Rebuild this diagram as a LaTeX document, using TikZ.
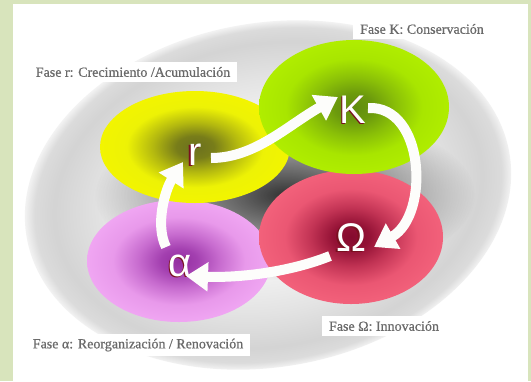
\documentclass[tikz,border=0pt]{standalone}
\usepackage{fontspec}
\setmainfont{Liberation Serif}[BoldFont=Liberation Serif, BoldFeatures={FakeBold=0.6}]
\newfontfamily\letterfont{Liberation Sans}
\usetikzlibrary{arrows.meta,calc,fadings}

\definecolor{framegreen}{HTML}{D8E4BC}
\definecolor{labelgrey}{HTML}{6A6A6A}
\definecolor{edgered}{HTML}{7A1020}
\definecolor{arrowwhite}{HTML}{FDFDFB}

% shadings for the background and the four phases (25bp = rim of the path)
\pgfdeclareradialshading{panarchy}{\pgfpoint{0bp}{0bp}}{rgb(0bp)=(0.98,0.98,0.98); rgb(10bp)=(0.96,0.96,0.96); rgb(17bp)=(0.89,0.89,0.89); rgb(22bp)=(0.83,0.83,0.83); rgb(24bp)=(0.86,0.86,0.86); rgb(25bp)=(0.95,0.95,0.95); rgb(50bp)=(1,1,1)}
\pgfdeclareradialshading{phaseR}{\pgfpoint{0bp}{0bp}}{rgb(0bp)=(0.42,0.44,0.12); rgb(5bp)=(0.47,0.49,0.1); rgb(11bp)=(0.7,0.72,0.06); rgb(18bp)=(0.93,0.95,0.02); rgb(25bp)=(0.95,0.96,0); rgb(50bp)=(0.95,0.96,0)}
\pgfdeclareradialshading{phaseK}{\pgfpoint{0bp}{0bp}}{rgb(0bp)=(0.38,0.55,0.06); rgb(5bp)=(0.42,0.6,0.05); rgb(11bp)=(0.54,0.75,0.03); rgb(18bp)=(0.66,0.9,0); rgb(25bp)=(0.69,0.93,0); rgb(50bp)=(0.69,0.93,0)}
\pgfdeclareradialshading{phaseO}{\pgfpoint{0bp}{0bp}}{rgb(0bp)=(0.52,0.04,0.18); rgb(5bp)=(0.58,0.07,0.21); rgb(11bp)=(0.76,0.2,0.33); rgb(18bp)=(0.92,0.34,0.45); rgb(25bp)=(0.95,0.38,0.48); rgb(50bp)=(0.95,0.38,0.48)}
\pgfdeclareradialshading{phaseA}{\pgfpoint{0bp}{0bp}}{rgb(0bp)=(0.58,0.18,0.63); rgb(5bp)=(0.64,0.25,0.69); rgb(11bp)=(0.78,0.42,0.81); rgb(18bp)=(0.91,0.6,0.92); rgb(25bp)=(0.94,0.65,0.95); rgb(50bp)=(0.94,0.65,0.95)}
\tikzfading[name=softspot, inner color=transparent!0, outer color=transparent!100]

\begin{document}
\begin{tikzpicture}[x=1bp,y=-1bp,
    flow/.style={draw=arrowwhite, line width=10bp, -{Triangle[width=28bp,length=22bp]}},
    letter/.style={inner sep=0pt, text=white, font=\letterfont\fontsize{40bp}{40bp}\selectfont},
    lettershadow/.style={letter, text=edgered},
    phase/.style={fill=white, text=labelgrey, inner xsep=7bp, inner ysep=5bp, font=\fontsize{14bp}{16bp}\selectfont\bfseries}]

    \useasboundingbox (0,0) rectangle (531,381);
    \fill[framegreen] (0,0) rectangle (531,381);
    \fill[white] (13,4) rectangle (528,381);

    % grey cloud behind the cycle
    \begin{scope}[transform canvas={rotate around={10:(268,195)}}]
        \shade[shading=panarchy] (268,195) ellipse [x radius=245, y radius=172];
    \end{scope}
    \fill[black!80, path fading=softspot] (285,195) ellipse [x radius=190, y radius=85];

    % the four phases
    \shade[shading=phaseA] (179,261) ellipse [x radius=92, y radius=61];
    \shade[shading=phaseR] (195,147) ellipse [x radius=95, y radius=56];
    \shade[shading=phaseO] (351,237) ellipse [x radius=92, y radius=67];
    \shade[shading=phaseK] (354,107) ellipse [x radius=95, y radius=67];

    \node[phase] (labr) at (133,72) {Fase r: Crecimiento /Acumulación};
    \node[phase] (labK) at (422,29) {Fase K: Conservación};
    \node[phase] (labO) at (384,326) {Fase Ω: Innovación};
    \node[phase] (labA) at (138,345) {Fase α: Reorganización / Renovación};

    \node[lettershadow] (rs) at (193.6,156) {r};
    \node[letter] (r) at (195,155) {r};
    \node[lettershadow] (Ks) at (351.6,111) {K};
    \node[letter] (K) at (353,110) {K};
    \node[lettershadow] (Os) at (349.6,239) {Ω};
    \node[letter] (O) at (351,238) {Ω};
    \node[lettershadow] (As) at (178.6,267) {α};
    \node[letter] (A) at (180,266) {α};

    % adaptive cycle
    \draw[flow] ($(r)+(16,3)$) .. controls ($(r)+(60,3)$) and ($(K)+(-65,15)$) .. ($(K)+(-15,-13)$);
    \draw[flow] ($(K)+(15,-2)$) .. controls ($(K)+(72,-5)$) and ($(O)+(79,-23)$) .. ($(O)+(23,9)$);
    \draw[flow] ($(O)+(-21,18)$) .. controls ($(O)+(-61,34)$) and ($(A)+(60,12)$) .. ($(A)+(6,10)$);
    \draw[flow] ($(A)+(-14,-19)$) .. controls ($(A)+(-25,-41)$) and ($(r)+(-30,35)$) .. ($(r)+(-12,7)$);
\end{tikzpicture}
\end{document}
